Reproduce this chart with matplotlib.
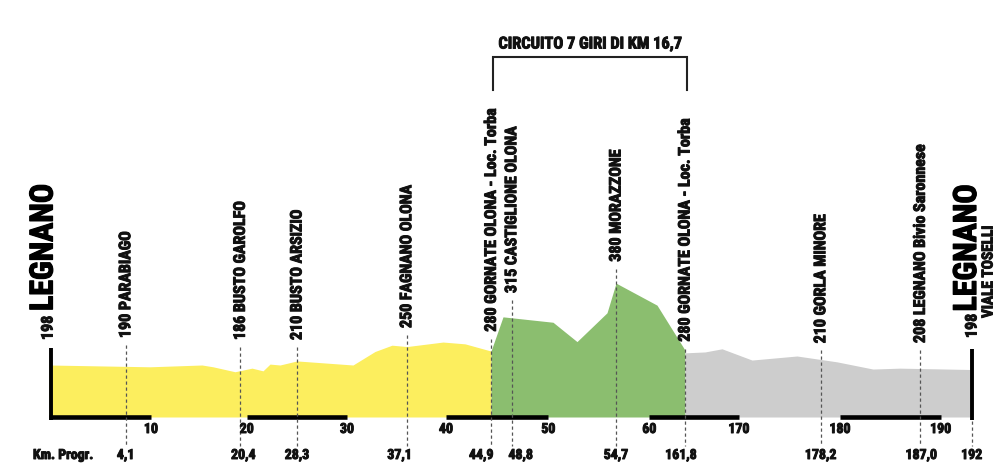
import matplotlib
matplotlib.use('Agg')
import matplotlib.pyplot as plt
from matplotlib import font_manager as fm
from matplotlib import patheffects as pe

# ---------------- data (x = position along the drawn distance axis, alt = metres) -------------
yellow_x = [0, 10.1, 15.3, 16.4, 18.6, 20.3, 21.4, 22.1, 23.1, 24.8, 30.4, 32.6, 34.3, 35.8, 39.4, 41.6, 44.2]
yellow_alt = [198, 194, 198, 194, 183, 191, 185, 200, 198, 207, 198, 228, 242, 239, 249, 245, 229]
green_x = [44.2, 45.4, 50.4, 52.8, 55.8, 56.7, 60.8, 63.6]
green_alt = [229, 305, 293, 250, 314, 380, 331, 231]
gray_x = [63.6, 65.6, 67.3, 70.3, 74.8, 78.8, 82.4, 85.1, 92.1]
gray_alt = [225, 227, 234, 209, 218, 205, 189, 191, 188]

marker_pos = [7.67, 19.13, 24.8, 35.77, 44.23, 46.27, 56.7, 63.6, 77.17, 87.13]
marker_km = ['4,1', '20,4', '28,3', '37,1', '44,9', '48,8', '54,7', '161,8', '178,2', '187,0']
marker_alt = ['190', '186', '210', '250', '280', '315', '380', '280', '210', '208']
marker_name = ['PARABIAGO', 'BUSTO GAROLFO', 'BUSTO ARSIZIO', 'FAGNANO OLONA',
               'GORNATE OLONA - Loc. Torba', 'CASTIGLIONE OLONA', 'MORAZZONE',
               'GORNATE OLONA - Loc. Torba', 'GORLA MINORE', 'LEGNANO Bivio Saronnese']

tick_pos = [10.2, 19.77, 29.8, 39.7, 49.93, 60.03, 69.0, 79.1, 89.17]
tick_labels = ['10', '20', '30', '40', '50', '60', '170', '180', '190']

start_pos, start_alt, start_name = 0.15, '198', 'LEGNANO'
finish_pos, finish_alt, finish_name, finish_sub, finish_km = 92.27, '198', 'LEGNANO', 'VIALE TOSELLI', '192'
circuit_text = 'CIRCUITO 7 GIRI DI KM 16,7'
circuit_from, circuit_to = 44.4, 63.8

# ---------------- fonts -------------
def pick(cands):
    for c in cands:
        try:
            fm.findfont(fm.FontProperties(family=c, weight='bold'), fallback_to_default=False)
            return c
        except Exception:
            pass
    return 'DejaVu Sans'

FONT = pick(['Liberation Sans Narrow', 'DejaVu Sans Condensed', 'Roboto Condensed', 'Liberation Sans'])
plt.rcParams['font.family'] = [FONT, 'DejaVu Sans']
plt.rcParams['font.weight'] = 'bold'
INK = '#111111'
BOLD = [pe.withStroke(linewidth=0.7, foreground=INK)]
BOLD_BIG = [pe.withStroke(linewidth=0.9, foreground='black')]

# ---------------- layout helpers (pixel -> data) -------------
W, H = 1005, 476
PX0, PXK = 49.0, 10.0          # x pixel of 0, pixels per unit
PY0, PYM, ALT0 = 365.0, 0.45, 198.0


def X(px):
    return (px - PX0) / PXK


def Y(py):
    return ALT0 + (PY0 - py) / PYM


fig = plt.figure(figsize=(W / 100, H / 100), dpi=100)
ax = fig.add_axes([0, 0, 1, 1])
ax.set_xlim(X(0), X(W))
ax.set_ylim(Y(H), Y(0))
ax.axis('off')

base = Y(417)
YELLOW, GREEN, GRAY = '#FCEE5E', '#8BBE6F', '#CDCDCD'
ax.fill_between(yellow_x, yellow_alt, base, color=YELLOW, lw=0)
ax.fill_between(green_x, green_alt, base, color=GREEN, lw=0)
ax.fill_between(gray_x, gray_alt, base, color=GRAY, lw=0)

# black distance bars
bar_y = Y(417.2)
segs = [(start_pos - 0.15, tick_pos[0])] + [(tick_pos[i], tick_pos[i + 1]) for i in range(1, len(tick_pos) - 1, 2)]
for a, b in segs:
    ax.plot([a, b], [bar_y, bar_y], color='black', lw=3.3, solid_capstyle='butt')

# start / finish vertical bars
ax.plot([start_pos, start_pos], [Y(348), Y(419.5)], color='black', lw=2.8, solid_capstyle='butt')
ax.plot([finish_pos, finish_pos], [Y(349), Y(419.5)], color='black', lw=2.8, solid_capstyle='butt')

SMALL = 10
# tick labels
for p, t in zip(tick_pos, tick_labels):
    ax.text(p, Y(429), t, ha='center', va='center', fontsize=SMALL, fontweight='bold', color=INK,
            path_effects=BOLD)

# markers
label_bottom_px = [338, 340, 340, 328, 331.7, 293, 261.7, 341.7, 343.3, 343]
km_label_shift_px = [0, 3, 0, -7, -10, 9, 0, -4, 0, 1]
dash = dict(color='#555555', lw=0.9, linestyle=(0, (2.6, 2.2)))
for p, km, alt, name, lb, sh in zip(marker_pos, marker_km, marker_alt, marker_name,
                                    label_bottom_px, km_label_shift_px):
    ax.plot([p, p], [Y(lb + 7), Y(446)], **dash)
    ax.text(p, Y(lb), f'{alt} {name}', rotation=90, ha='center', va='bottom',
            fontsize=11.5, fontweight='bold', color=INK, path_effects=BOLD)
    ax.text(p + sh / PXK, Y(455), km, ha='center', va='center', fontsize=SMALL, fontweight='bold', color=INK,
            path_effects=BOLD)

# finish dashed and km
ax.plot([finish_pos, finish_pos], [Y(421), Y(446)], **dash)
ax.text(finish_pos, Y(455), finish_km, ha='center', va='center', fontsize=SMALL, fontweight='bold', color=INK,
        path_effects=BOLD)
ax.text(X(33), Y(455), 'Km. Progr.', ha='left', va='center', fontsize=SMALL, fontweight='bold', color=INK,
        path_effects=BOLD)

# start label
ax.text(X(48), Y(340), start_alt, rotation=90, ha='center', va='bottom', fontsize=11.5, fontweight='bold',
        color=INK, path_effects=BOLD)
ax.text(X(43.5), Y(311), start_name, rotation=90, ha='center', va='bottom', fontsize=23, fontweight='bold',
        color='black', path_effects=BOLD_BIG)
# finish label
ax.text(X(972), Y(338), finish_alt, rotation=90, ha='center', va='bottom', fontsize=11.5, fontweight='bold',
        color=INK, path_effects=BOLD)
ax.text(X(967), Y(311.5), finish_name, rotation=90, ha='center', va='bottom', fontsize=23, fontweight='bold',
        color='black', path_effects=BOLD_BIG)
ax.text(X(988.5), Y(318), finish_sub, rotation=90, ha='center', va='bottom', fontsize=11, fontweight='bold',
        color=INK, path_effects=BOLD)

# circuit bracket
ax.plot([circuit_from, circuit_from, circuit_to, circuit_to], [Y(89.5), Y(56.7), Y(56.7), Y(89.5)],
        color='#222222', lw=1.5, solid_joinstyle='miter')
ax.text((circuit_from + circuit_to) / 2, Y(44), circuit_text, ha='center', va='center',
        fontsize=11.8, fontweight='bold', color=INK, path_effects=BOLD)

fig.savefig('out.png', dpi=100, facecolor='white')
